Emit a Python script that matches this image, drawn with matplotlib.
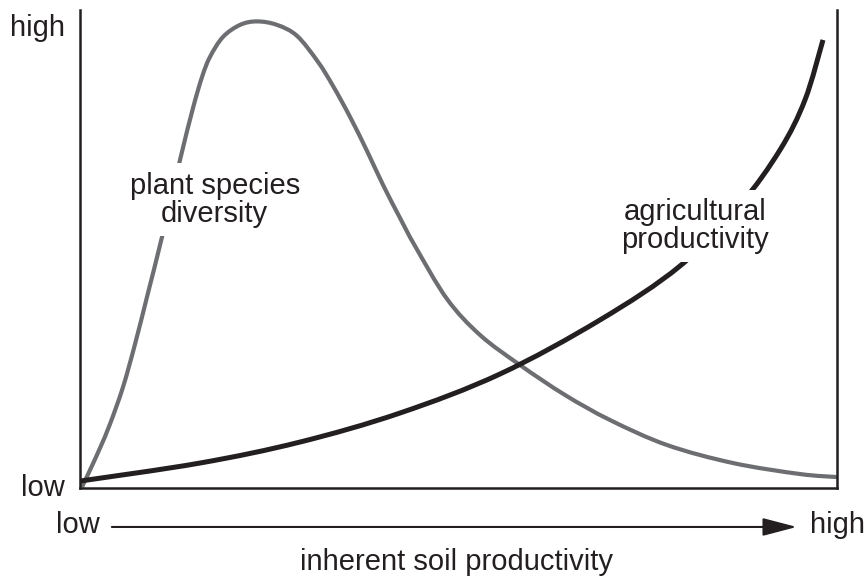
import matplotlib
matplotlib.use('Agg')
import matplotlib.pyplot as plt
from matplotlib.path import Path
from matplotlib.patches import PathPatch

plt.rcParams['font.family'] = ['Liberation Sans', 'DejaVu Sans']

# curves, x and y both on a 0-100 (low -> high) scale
diversity_x = [0.26, 1.32, 2.64, 3.96, 5.68, 7.27, 8.98, 10.83, 13.21, 14.93, 16.12,
               17.17, 18.89, 21.14, 23.38, 26.02, 28.67, 31.44, 33.42, 35.67, 37.91,
               40.03, 42.27, 44.25, 48.48, 52.84, 58.12, 64.07, 70.01, 77.54, 86.26,
               95.11, 100.0]
diversity_y = [0.21, 3.77, 8.37, 13.39, 21.13, 30.13, 40.80, 52.51, 68.62, 79.50, 85.98,
               90.17, 94.35, 96.86, 97.59, 96.86, 94.56, 89.12, 84.10, 77.62, 70.50,
               63.39, 56.49, 50.63, 39.54, 32.01, 25.73, 19.46, 14.23, 9.00, 5.23,
               2.93, 2.30]

agri_x = [0.0, 15.85, 29.06, 42.27, 55.48, 68.69, 79.26, 87.19, 92.47, 95.77, 98.15]
agri_y = [1.46, 5.23, 9.62, 15.69, 23.85, 35.15, 46.44, 59.21, 70.71, 81.17, 93.72]

ink = '#231f20'
grey = '#6d6e71'


def smooth_path(xs, ys):
    # catmull-rom through the read points, handed to matplotlib as cubic beziers
    pts = list(zip(xs, ys))
    verts = [pts[0]]
    codes = [Path.MOVETO]
    for i in range(len(pts) - 1):
        p0 = pts[i - 1] if i > 0 else pts[i]
        p1 = pts[i]
        p2 = pts[i + 1]
        p3 = pts[i + 2] if i + 2 < len(pts) else pts[i + 1]
        c1 = (p1[0] + (p2[0] - p0[0]) / 6, p1[1] + (p2[1] - p0[1]) / 6)
        c2 = (p2[0] - (p3[0] - p1[0]) / 6, p2[1] - (p3[1] - p1[1]) / 6)
        verts += [c1, c2, p2]
        codes += [Path.CURVE4] * 3
    return Path(verts, codes)


fig = plt.figure(figsize=(8.67, 5.81), dpi=100)
ax = fig.add_axes([0.0923, 0.160, 0.8731, 0.823])

ax.add_patch(PathPatch(smooth_path(diversity_x, diversity_y), fill=False,
                       edgecolor=grey, lw=3.0, capstyle='butt', zorder=2))
ax.add_patch(PathPatch(smooth_path(agri_x, agri_y), fill=False,
                       edgecolor=ink, lw=3.6, capstyle='butt', zorder=3))

ax.set_xlim(0, 100)
ax.set_ylim(0, 100)
ax.set_xticks([])
ax.set_yticks([])
ax.spines['top'].set_visible(False)
for s in ['left', 'right', 'bottom']:
    ax.spines[s].set_color(ink)
    ax.spines[s].set_linewidth(1.8)

fs = 21
box = dict(facecolor='white', edgecolor='none', pad=6)
ax.text(17.8, 60.3, 'plant species\ndiversity', ha='center', va='center', fontsize=fs,
        color=ink, linespacing=1.0, bbox=box, zorder=4)
ax.text(81.2, 54.8, 'agricultural\nproductivity', ha='center', va='center', fontsize=fs,
        color=ink, linespacing=1.0, bbox=box, zorder=4)

# y-axis ends
ax.text(-0.02, 0.962, 'high', transform=ax.transAxes, ha='right', va='center',
        fontsize=fs, color=ink)
ax.text(-0.02, 0.0, 'low', transform=ax.transAxes, ha='right', va='center',
        fontsize=fs, color=ink)

# x-axis arrow underneath
fig.text(0.115, 0.096, 'low', ha='right', va='center', fontsize=fs, color=ink)
fig.text(0.934, 0.096, 'high', ha='left', va='center', fontsize=fs, color=ink)
ax.annotate('', xy=(0.919, 0.093), xytext=(0.129, 0.093), xycoords='figure fraction',
            textcoords='figure fraction',
            arrowprops=dict(arrowstyle='-|>,head_length=2.1,head_width=0.55',
                            mutation_scale=10, lw=1.5, color=ink,
                            shrinkA=0, shrinkB=0))
fig.text(0.526, 0.033, 'inherent soil productivity', ha='center', va='center',
         fontsize=fs, color=ink)

fig.savefig('out.png', dpi=100)
